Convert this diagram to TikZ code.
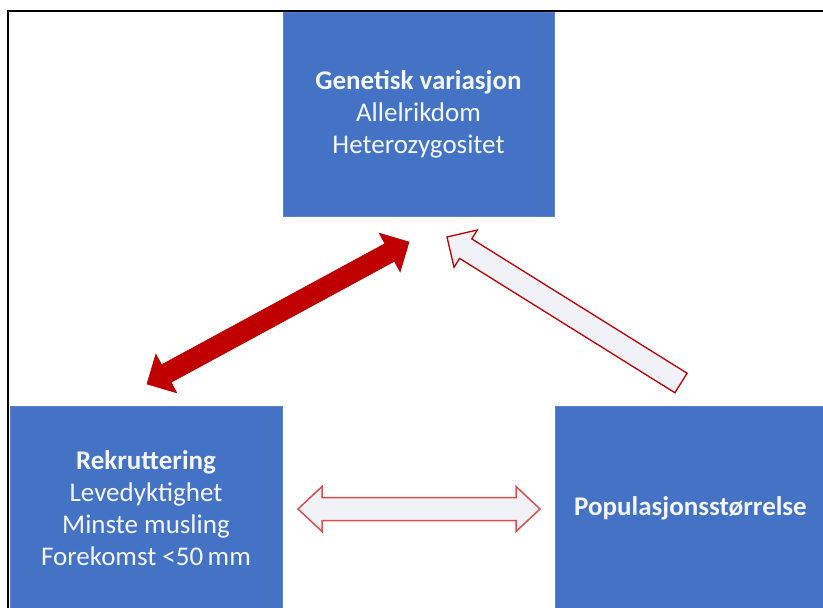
\documentclass[tikz,border=0pt]{standalone}
\usepackage{fontspec}
\setmainfont{Carlito}
\usetikzlibrary{calc}
\definecolor{boxblue}{HTML}{4472C4}
\definecolor{boxedge}{HTML}{5B82CC}
\definecolor{darkred}{HTML}{C00000}
\definecolor{paleblue}{HTML}{F0F2F7}
\definecolor{softred}{HTML}{D85050}
\definecolor{textwhite}{HTML}{F4F7FF}

% double block arrow: #1 end A, #2 end B, #3 shaft half width, #4 head half width, #5 head length, #6 style
\newcommand{\dblblockarrow}[6]{%
  \coordinate (#1-#2-ha) at ($(#1)!#5!(#2)$);
  \coordinate (#1-#2-hb) at ($(#2)!#5!(#1)$);
  \path[#6] (#1)
    -- ($(#1-#2-ha)!#4!90:(#2)$)
    -- ($(#1-#2-ha)!#3!90:(#2)$)
    -- ($(#1-#2-hb)!#3!-90:(#1)$)
    -- ($(#1-#2-hb)!#4!-90:(#1)$)
    -- (#2)
    -- ($(#1-#2-hb)!#4!90:(#1)$)
    -- ($(#1-#2-hb)!#3!90:(#1)$)
    -- ($(#1-#2-ha)!#3!-90:(#2)$)
    -- ($(#1-#2-ha)!#4!-90:(#2)$)
    -- cycle;}

% single block arrow: #1 tail, #2 tip, #3 shaft half width, #4 head half width, #5 head length, #6 style
\newcommand{\oneblockarrow}[6]{%
  \coordinate (#1-#2-h) at ($(#2)!#5!(#1)$);
  \path[#6] ($(#1)!#3!90:(#2)$)
    -- ($(#1-#2-h)!#3!-90:(#1)$)
    -- ($(#1-#2-h)!#4!-90:(#1)$)
    -- (#2)
    -- ($(#1-#2-h)!#4!90:(#1)$)
    -- ($(#1-#2-h)!#3!90:(#1)$)
    -- ($(#1)!#3!-90:(#2)$)
    -- cycle;}

\tikzset{
  infobox/.style={fill=boxblue, draw=boxedge, line width=0.8pt, text=textwhite,
    align=center, inner sep=0pt, minimum height=204pt,
    font=\fontsize{27}{32}\selectfont},
  solidarrow/.style={fill=darkred, draw=darkred, line width=0.6pt, line join=miter},
  hollowarrow/.style={fill=paleblue, draw=darkred, line width=1.3pt, line join=miter},
  softarrow/.style={fill=paleblue, draw=softred, line width=1.5pt, line join=miter},
  frame/.style={draw=black, line width=2pt}
}

\begin{document}
\begin{tikzpicture}[x=1pt, y=-1pt]
  \useasboundingbox (0,0) rectangle (823,608);
  \clip (0,0) rectangle (823,608);
  \fill[white] (0,0) rectangle (823,608);

  \draw[frame] (823,11) -- (8,11) -- (8,612);

  \node[infobox, minimum width=271pt] (gen) at (418.5,114)
    {\textbf{Genetisk variasjon}\\Allelrikdom\\Heterozygositet};
  \node[infobox, minimum width=272pt] (rek) at (146,508)
    {\textbf{Rekruttering}\\Levedyktighet\\Minste musling\\Forekomst <50\,mm};
  \node[infobox, minimum width=271pt] (pop) at (690.5,508)
    {\textbf{Populasjonsstørrelse}};

  % arrow end points
  \coordinate (rekTip) at (147,384);
  \coordinate (genTipL) at (409,242);
  \coordinate (popTail) at (681,383);
  \coordinate (genTipR) at (447,237);
  \coordinate (rekTipR) at (298,509);
  \coordinate (popTipL) at (540,509);

  \dblblockarrow{rekTip}{genTipL}{10pt}{22pt}{22pt}{solidarrow}
  \oneblockarrow{popTail}{genTipR}{11.5pt}{22pt}{22pt}{hollowarrow}
  \dblblockarrow{rekTipR}{popTipL}{11.5pt}{22.5pt}{24pt}{softarrow}
\end{tikzpicture}
\end{document}
